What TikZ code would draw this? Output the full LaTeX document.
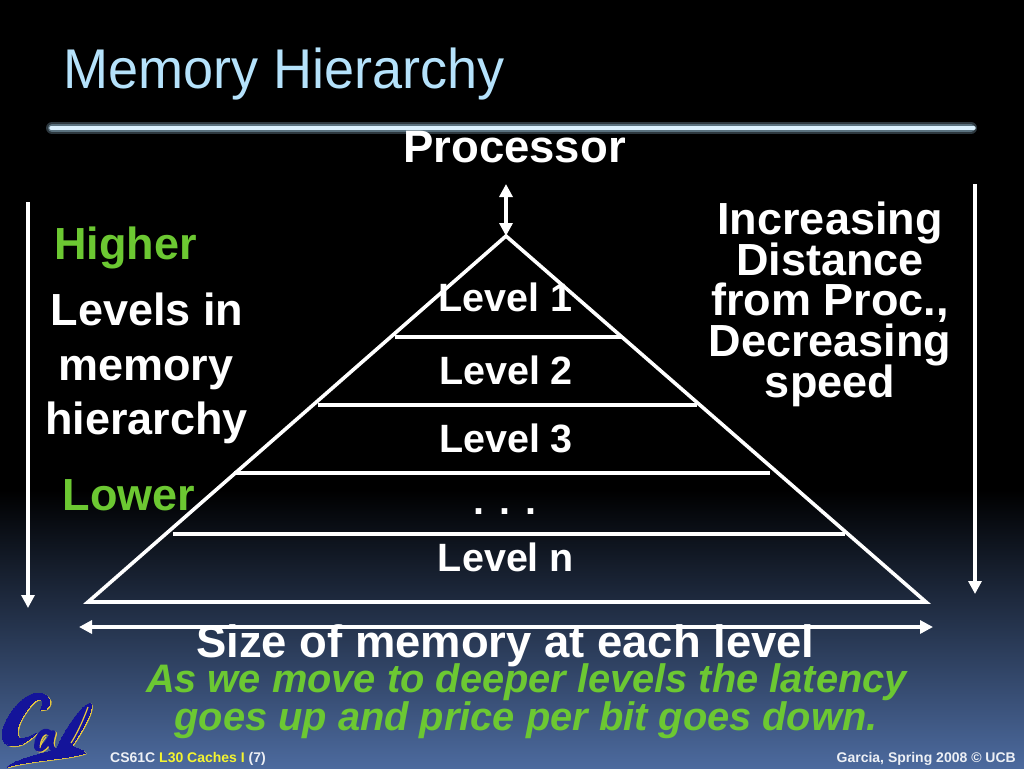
\documentclass[tikz,border=0pt]{standalone}
\usepackage{fontspec}
\setmainfont{Liberation Sans}
\usetikzlibrary{arrows.meta}
\definecolor{titleblue}{HTML}{B5E2FB}
\definecolor{calgreen}{HTML}{6CC832}
\definecolor{botblue}{HTML}{4C6A9E}
\definecolor{calblue}{HTML}{14149A}
\definecolor{calgold}{HTML}{E8C840}
\definecolor{footy}{HTML}{F4F430}
\newcommand{\fs}[1]{\fontsize{#1}{#1}\selectfont}
\tikzset{x=1pt,y=-1pt,
 lbl/.style={anchor=base,inner sep=0pt,text=white,font=\bfseries\fs{#1}},
 grn/.style={anchor=base,inner sep=0pt,text=calgreen,font=\bfseries\fs{#1}},
 grni/.style={anchor=base,inner sep=0pt,text=calgreen,font=\bfseries\itshape\fs{#1}},
 wire/.style={draw=white,line width=3.6pt},
 arr/.style={draw=white,line width=3.2pt,-{Triangle[length=13pt,width=13pt]}},
 arrb/.style={draw=white,line width=3.2pt,{Triangle[length=13pt,width=13pt]}-{Triangle[length=13pt,width=13pt]}},
 foot/.style={anchor=base west,inner sep=0pt,font=\bfseries\fs{14},text=#1},
}
\begin{document}
\begin{tikzpicture}
\useasboundingbox (0,0) rectangle (1024,768);
\fill[black] (0,0) rectangle (1024,491);
\shade[top color=black,bottom color=botblue,shading angle=0] (0,490) rectangle (1024,768);
% title
\node[anchor=base west,inner sep=0pt,text=titleblue,font=\fs{56}] (title) at (63,88) {\scalebox{0.965}[1]{Memory Hierarchy}};
\draw[line width=12pt,draw=black!75!titleblue,line cap=round] (52,128) -- (971,128);
\draw[line width=8pt,draw=black!50!titleblue,line cap=round] (52,128) -- (971,128);
\draw[line width=3.4pt,draw=titleblue!50!white,line cap=round] (51,128) -- (974,128);
% pyramid
\coordinate (apex) at (506,236);
\coordinate (bl) at (88,602);
\coordinate (br) at (926,602);
\draw[wire,line join=miter] (apex) -- (br) -- (bl) -- cycle;
\coordinate (l1a) at (395,337); \coordinate (l1b) at (622,337);
\coordinate (l2a) at (318,405); \coordinate (l2b) at (697,405);
\coordinate (l3a) at (234,473); \coordinate (l3b) at (770,473);
\coordinate (l4a) at (173,534); \coordinate (l4b) at (845,534);
\draw[wire] (l1a) -- (l1b);
\draw[wire] (l2a) -- (l2b);
\draw[wire] (l3a) -- (l3b);
\draw[wire] (l4a) -- (l4b);
% arrows
\coordinate (ptop) at (506,184);
\draw[arrb] (ptop) -- (apex);
\coordinate (la) at (28,202); \coordinate (lb) at (28,608);
\draw[arr] (la) -- (lb);
\coordinate (ra) at (975,184); \coordinate (rb) at (975,594);
\draw[arr] (ra) -- (rb);
\coordinate (ha) at (79,627); \coordinate (hb) at (933,627);
\draw[arrb] (ha) -- (hb);
% labels
\node[lbl=45.5] (proc) at (514.5,162) {Processor};
\node[grn=45] (higher) at (125.5,259) {Higher};
\node[lbl=45] (t1) at (147,325) {Levels in};
\node[lbl=45] (t2) at (146,380) {memory};
\node[lbl=45] (t3) at (146.5,434) {hierarchy};
\node[grn=45] (lower) at (129,510) {Lower};
\node[lbl=39.5] (L1) at (505.5,311) {Level 1};
\node[lbl=39.5] (L2) at (506,384) {Level 2};
\node[lbl=39.5] (L3) at (506,452) {Level 3};
\node[lbl=39.5] (Ld) at (505,514) {. . .};
\node[lbl=39.5] (Ln) at (506,571) {Level n};
\node[lbl=45] (r1) at (830,234) {Increasing};
\node[lbl=45] (r2) at (830,275) {Distance};
\node[lbl=45] (r3) at (830,315) {from Proc.,};
\node[lbl=45] (r4) at (830,356) {Decreasing};
\node[lbl=45] (r5) at (830,397) {speed};
\node[lbl=45.4] (size) at (505.5,657) {Size of memory at each level};
\node[grni=39.8] (g1) at (526.5,692) {As we move to deeper levels the latency};
\node[grni=39.8] (g2) at (526,730) {goes up and price per bit goes down.};
% footer
\node[foot=white!90!botblue] (f1) at (110,762) {CS61C \textcolor{footy}{L30 Caches I} \textcolor{white!90!botblue}{(7)}};
\node[anchor=base east,inner sep=0pt,font=\bfseries\fs{14},text=white!90!botblue] (f2) at (1016,762) {Garcia, Spring 2008 © UCB};
% Cal logo
\foreach \c/\sx/\sy/\e in {calgold/1.3/0.9/0.6,calblue/0/0/0}{
\begin{scope}[shift={(\sx,\sy)},line join=round,line cap=round]
% C
\fill[fill=\c,draw=\c,line width=\e pt] (46,709) .. controls (50,706) and (51,701) .. (49,699)
 .. controls (47,693) and (36,691) .. (28,696)
 .. controls (14,704) and (2,724) .. (2,735)
 .. controls (2,746) and (12,748) .. (22,744)
 .. controls (27,741) and (32,738) .. (36,733)
 .. controls (30,737) and (24,739) .. (20,738)
 .. controls (15,736) and (17,724) .. (24,714)
 .. controls (30,705) and (36,698) .. (41,699)
 .. controls (44,700) and (43,706) .. (40,710) -- cycle;
% a
\draw[draw=\c,line width=5.5pt] (50,733) .. controls (42,727) and (36,740) .. (37,748)
 .. controls (39,752) and (47,746) .. (53,733)
 .. controls (50,742) and (50,748) .. (54,750);
% l
\fill[fill=\c,draw=\c,line width=\e pt] (55,752) .. controls (62,735) and (78,708) .. (90,703)
 .. controls (94,706) and (88,722) .. (70,748)
 .. controls (68,752) and (60,754) .. (55,752) -- cycle;
% swash
\fill[fill=\c,draw=\c,line width=\e pt] (7,767) .. controls (20,757) and (50,752) .. (72,746)
 .. controls (76,748) and (84,750) .. (85,753)
 .. controls (70,759) and (30,760) .. (7,767) -- cycle;
\end{scope}
}
% gold slits
\draw[draw=calgold,line width=1.2pt] (88,707) .. controls (84,718) and (78,732) .. (71,743);
\draw[draw=calgold,line width=1pt] (46,737) .. controls (42,742) and (40,746) .. (40,748);
\end{tikzpicture}
\end{document}
